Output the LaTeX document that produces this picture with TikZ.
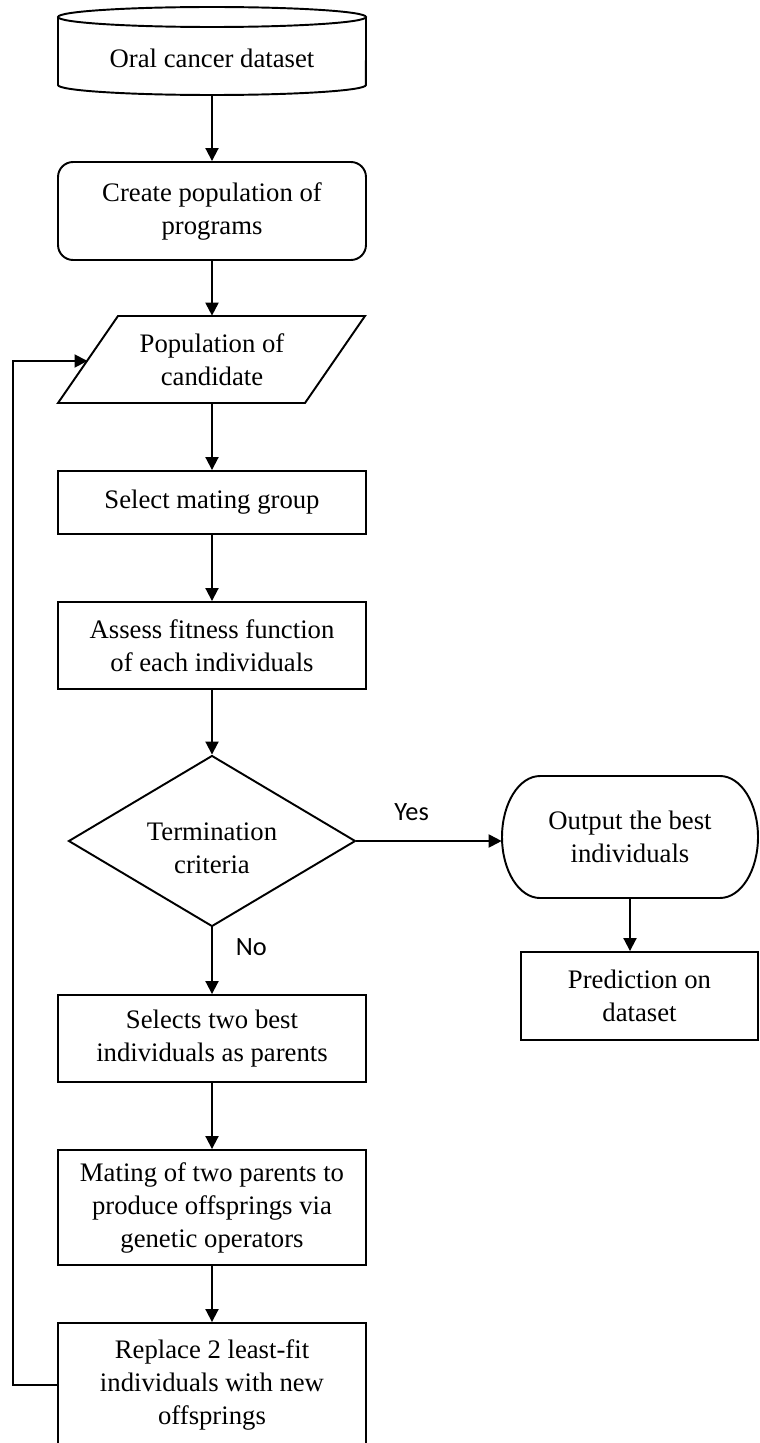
\documentclass[tikz,border=0pt]{standalone}
\usepackage{fontspec}
\setmainfont{Liberation Serif}
\newfontfamily\labelfont{Carlito}
\usetikzlibrary{arrows.meta,shapes.geometric}
\begin{document}
\begin{tikzpicture}[x=0.02cm,y=-0.02cm,
  every node/.style={font=\fontsize{15.2pt}{18.8pt}\selectfont, align=center, inner sep=0pt},
  ln/.style={line width=1.1pt, line join=miter},
  arr/.style={ln, -{Triangle[length=0.26cm,width=0.26cm]}},
  procbox/.style={draw, line width=1.1pt, rectangle, minimum width=6.16cm},
  roundbox/.style={procbox, rounded corners=0.3cm},
  decision/.style={draw, line width=1.1pt, diamond, minimum width=5.74cm, minimum height=3.42cm},
  plain/.style={draw=none, rectangle},
  lbl/.style={font=\labelfont\fontsize{15pt}{18pt}\selectfont}
]
\useasboundingbox (0,0) rectangle (760,1443);
\clip (0,0) rectangle (760,1443);

% dataset cylinder
\node[plain, minimum width=6.16cm, minimum height=1.48cm] (db) at (212,58) {Oral cancer dataset};
\draw[ln] (58,17) -- (58,85) arc[start angle=180, end angle=360, x radius=3.08cm, y radius=0.2cm] -- (366,17);
\draw[ln] (212,17) ellipse [x radius=3.08cm, y radius=0.2cm];

\node[roundbox, minimum height=1.96cm] (create) at (212,211) {Create population of\\programs};

% parallelogram
\node[plain, minimum width=4.9cm, minimum height=1.74cm] (pop) at (212,359.5) {Population of\\candidate};
\draw[ln] (118,316) -- (365,316) -- (305,403) -- (58,403) -- cycle;
\coordinate (fbin) at (87.5,361);

\node[procbox, minimum height=1.26cm] (mate) at (212,502.5) {Select mating group};
\node[procbox, minimum height=1.74cm] (assess) at (212,645.5) {Assess fitness function\\of each individuals};
\node[decision] (dec) at (212,841) {};
\node[plain] (dectext) at (212,848) {Termination\\criteria};

\node[plain, minimum width=5.12cm, minimum height=2.44cm] (out) at (630,837) {Output the best\\individuals};
\draw[ln] (540,776) -- (720,776) arc[start angle=90, end angle=-90, x radius=0.76cm, y radius=1.22cm]
  -- (540,898) arc[start angle=270, end angle=90, x radius=0.76cm, y radius=1.22cm] -- cycle;

\node[procbox, minimum width=4.74cm, minimum height=1.76cm] (pred) at (639.5,996) {Prediction on\\dataset};

\node[procbox, minimum height=1.74cm] (parents) at (212,1038.5) {Selects two best\\individuals as parents};
\node[procbox, minimum height=2.3cm] (mating) at (212,1207.5) {Mating of two parents to\\produce offsprings via\\genetic operators};
\node[procbox, minimum height=2.48cm] (replace) at (212,1385) {Replace 2 least-fit\\individuals with new\\offsprings};

% connectors
\draw[arr] (db.south) -- (create.north);
\draw[arr] (create.south) -- (pop.north);
\draw[arr] (pop.south) -- (mate.north);
\draw[arr] (mate.south) -- (assess.north);
\draw[arr] (assess.south) -- (dec.north);
\draw[arr] (dec.east) -- (dec.east -| out.west) node[lbl, pos=0.38, above=11pt] {Yes};
\draw[arr] (dec.south) -- (dec.south |- parents.north) node[lbl, pos=0.3, right=13pt] {No};
\draw[arr] (out.south) -- (out.south |- pred.north);
\draw[arr] (parents.south) -- (mating.north);
\draw[arr] (mating.south) -- (replace.north);
\draw[arr] (replace.west) -- (13,1385) -- (13,361) -- (fbin);
\end{tikzpicture}
\end{document}
